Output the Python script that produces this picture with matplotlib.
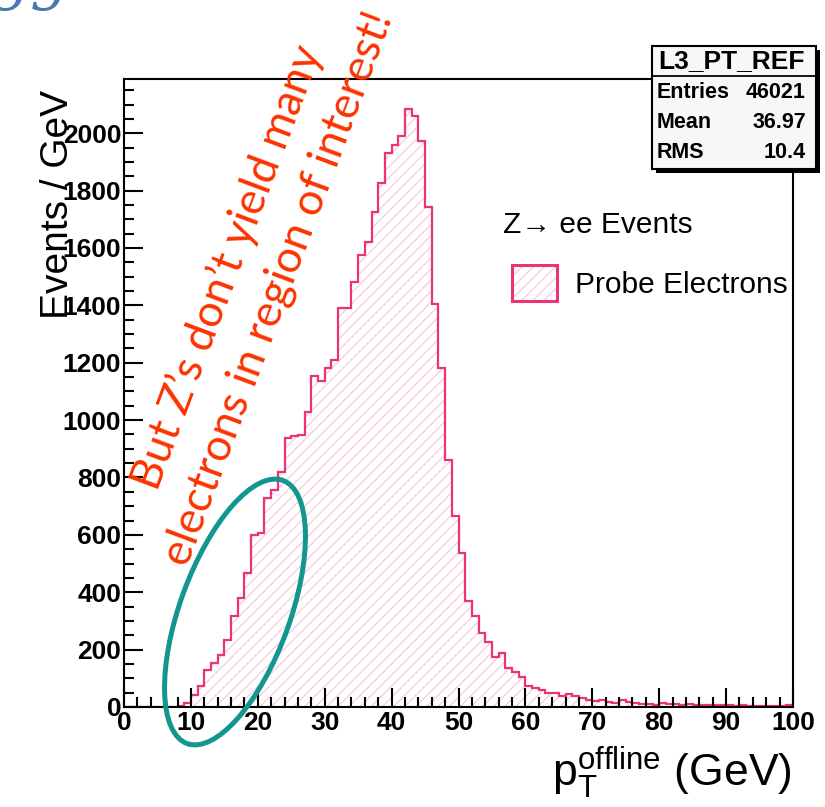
import numpy as np
import matplotlib
matplotlib.use("Agg")
import matplotlib.pyplot as plt
from matplotlib.patches import Patch, Ellipse, Rectangle
from matplotlib.legend_handler import HandlerTuple
from matplotlib.ticker import MultipleLocator

plt.rcParams['font.family'] = ['Liberation Sans', 'DejaVu Sans']
plt.rcParams['mathtext.fontset'] = 'custom'
plt.rcParams['mathtext.rm'] = 'Liberation Sans'
plt.rcParams['mathtext.it'] = 'Liberation Sans:italic'
plt.rcParams['mathtext.bf'] = 'Liberation Sans:bold'
plt.rcParams['hatch.linewidth'] = 0.8

# histogram of probe electron pT, 1 GeV bins from 0 to 100
bin_edges = np.arange(0, 101, 1)
probe_counts = [
    0, 0, 0, 0, 0, 0, 0, 1, 5, 13,
    42, 73, 129, 155, 181, 234, 318, 380, 467, 600,
    608, 729, 757, 818, 938, 943, 949, 1027, 1153, 1138,
    1182, 1211, 1391, 1391, 1480, 1577, 1620, 1725, 1827, 1932,
    1958, 1990, 2085, 2060, 1972, 1742, 1403, 1182, 862, 666,
    536, 371, 318, 257, 226, 176, 187, 135, 121, 104,
    73, 65, 59, 48, 50, 38, 45, 38, 30, 24,
    22, 26, 19, 15, 24, 19, 13, 12, 9, 8,
    13, 12, 9, 8, 9, 7, 8, 7, 6, 7,
    6, 5, 6, 4, 3, 3, 4, 3, 3, 7,
]
series_label = "Probe Electrons"
header_label = "Z\u2192 ee Events"
hist_name = "L3_PT_REF"
stat_names = ["Entries", "Mean", "RMS"]
stat_values = ["46021", "36.97", "10.4"]
note_lines = ["But Z\u2019s don\u2019t yield many", "electrons in region of interest!"]

LINE = '#ec3278'
HATCH = '#f8c6d7'
RED = '#fb3300'
TEAL = '#13968f'

fig = plt.figure(figsize=(8.25, 8.07), dpi=100)
ax = fig.add_axes([124 / 825, 100 / 807, 669 / 825, 628 / 807])

ax.stairs(probe_counts, bin_edges, fill=True, facecolor='white',
          edgecolor=HATCH, hatch='///', linewidth=0)
ax.stairs(probe_counts, bin_edges, color=LINE, linewidth=1.6)

ax.set_xlim(0, 100)
ax.set_ylim(0, 2189)
ax.xaxis.set_major_locator(MultipleLocator(10))
ax.xaxis.set_minor_locator(MultipleLocator(2))
ax.yaxis.set_major_locator(MultipleLocator(200))
ax.yaxis.set_minor_locator(MultipleLocator(50))
ax.tick_params(which='both', direction='in', top=False, right=False, width=1.5)
ax.tick_params(which='major', length=13.5, labelsize=19)
ax.tick_params(axis='x', which='major', pad=3)
ax.tick_params(axis='y', which='major', pad=2)
ax.tick_params(which='minor', length=7.5)
for lbl in ax.get_xticklabels() + ax.get_yticklabels():
    lbl.set_fontweight('bold')
for sp in ax.spines.values():
    sp.set_linewidth(1.5)

ax.set_ylabel("Events / GeV", fontsize=28)
ax.yaxis.set_label_coords(-0.072, 0.80)
ax.set_xlabel(r"$\mathregular{p_{T}^{offline}}$ (GeV)", fontsize=32, loc='right')
ax.xaxis.set_label_coords(0.998, -0.105)
ax.xaxis.label.set_va('center')

# legend
ax.text(0.5665, 0.7675, header_label, transform=ax.transAxes, fontsize=21.5,
        va='center', ha='left')
hatch_handle = Patch(facecolor='white', edgecolor=HATCH, hatch='///', linewidth=0)
edge_handle = Patch(facecolor='none', edgecolor=LINE, linewidth=2.2)
ax.legend([(hatch_handle, edge_handle)], [series_label],
          handler_map={tuple: HandlerTuple(ndivide=1)},
          loc='upper left', bbox_to_anchor=(0.58, 0.704), frameon=False,
          fontsize=21.5, handlelength=1.5, handleheight=1.5, handletextpad=0.6,
          borderpad=0, borderaxespad=0)

# overlay in pixel coordinates for the stats box and slide annotations
ov = fig.add_axes([0, 0, 1, 1], zorder=5)
ov.set_xlim(0, 825)
ov.set_ylim(807, 0)
ov.axis('off')

ov.add_patch(Rectangle((656, 50), 164, 123, facecolor='black', lw=0))
ov.add_patch(Rectangle((652, 46), 164, 123, facecolor='#f7f7f7', edgecolor='black', lw=1.5))
ov.plot([652, 816], [76, 76], color='black', lw=1.3)
ov.text(732, 61, hist_name, ha='center', va='center', fontsize=19, weight='bold')
for i, (nm, val) in enumerate(zip(stat_names, stat_values)):
    y = 92 + i * 30.5
    ov.text(657, y, nm, ha='left', va='center', fontsize=15.5, weight='bold')
    ov.text(806, y, val, ha='right', va='center', fontsize=15.5, weight='bold')

ov.text(158, 492, note_lines[0], rotation=69.5, rotation_mode='anchor',
        ha='left', va='baseline', fontsize=32, color=RED, family='Lato')
ov.text(188, 568, note_lines[1], rotation=69.5, rotation_mode='anchor',
        ha='left', va='baseline', fontsize=32, color=RED, family='Lato')
ov.add_patch(Ellipse((235, 612), 280, 110, angle=-70, facecolor='none',
                     edgecolor=TEAL, lw=3.6))

ov.text(-8, -3, "gg", fontsize=44, style='italic', family='DejaVu Serif',
        color='#4a78b0', va='baseline', ha='left')

fig.savefig("out.png", dpi=100)
